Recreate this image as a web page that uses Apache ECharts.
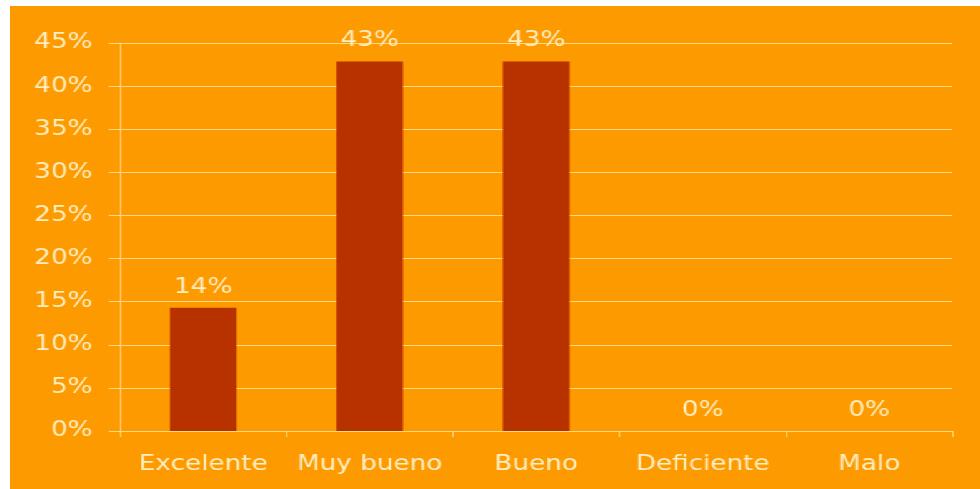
<!DOCTYPE html>
<html><head><meta charset="utf-8">
<script src="https://cdn.jsdelivr.net/npm/echarts@6/dist/echarts.min.js"></script>
<style>
html,body{margin:0;padding:0;background:#fff;overflow:hidden;}
#c{position:absolute;left:10px;top:6px;width:776px;height:483px;background:#FD9A00;transform:scaleX(1.25);transform-origin:0 0;}
</style></head>
<body><div id="c"></div>
<script>
const categories = ['Excelente','Muy bueno','Bueno','Deficiente','Malo'];
const values = [14.29, 42.86, 42.86, 0, 0];
const yTicks = [0,5,10,15,20,25,30,35,40,45];
const textColor = '#FFEFC2';
const lineColor = '#FFD98A';
const chart = echarts.init(document.getElementById('c'));
chart.setOption({
  backgroundColor: '#FD9A00',
  animation: false,
  grid: {left: 88, right: 22, top: 37, bottom: 58},
  xAxis: {
    type: 'category', data: categories,
    axisLine: {lineStyle: {color: lineColor, width: 1}},
    axisTick: {show: true, length: 6, lineStyle: {color: lineColor}},
    axisLabel: {interval: 0, hideOverlap: false, color: textColor, fontSize: 21, fontFamily: 'DejaVu Sans', margin: 23}
  },
  yAxis: {
    type: 'value', min: yTicks[0], max: yTicks[yTicks.length-1], interval: 5,
    axisLine: {show: true, lineStyle: {color: lineColor, width: 1}},
    axisTick: {show: true, length: 9, lineStyle: {color: lineColor}},
    splitLine: {lineStyle: {color: lineColor, width: 1}},
    axisLabel: {color: textColor, fontSize: 21, fontFamily: 'DejaVu Sans', margin: 22, formatter: v => v + '%'}
  },
  series: [{
    type: 'bar', data: values, barWidth: '40%',
    itemStyle: {color: '#B83200'},
    label: {show: true, position: 'top', distance: 10, color: textColor, fontSize: 21, fontFamily: 'DejaVu Sans',
      formatter: p => Math.round(p.value) + '%'}
  }]
});
</script></body></html>
